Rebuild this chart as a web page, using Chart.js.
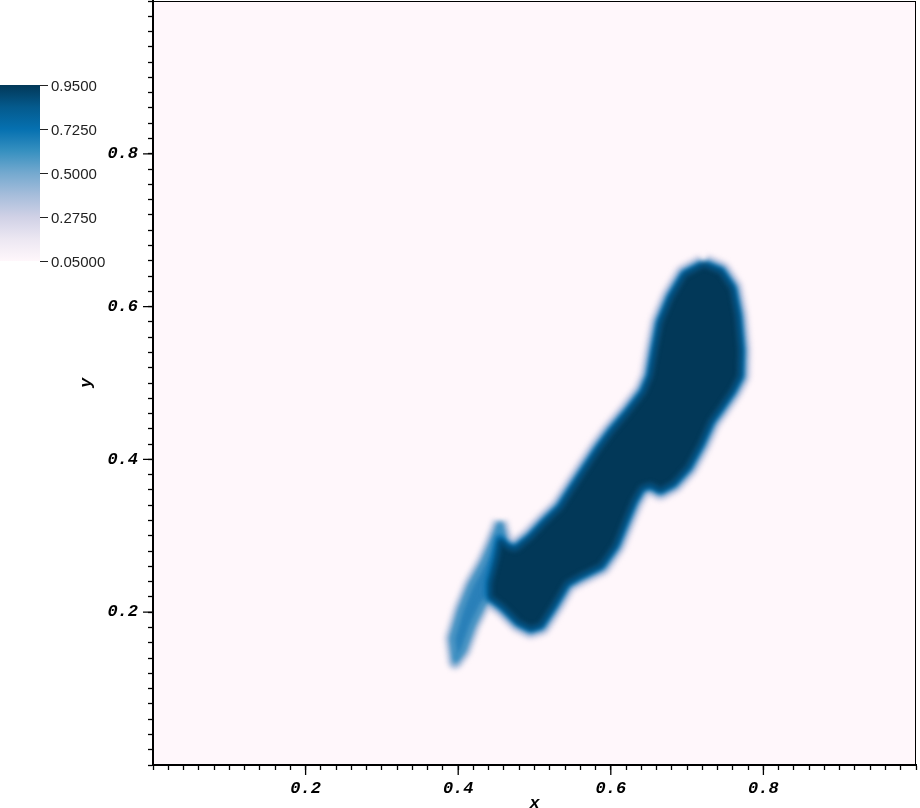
<!DOCTYPE html>
<html>
<head>
<meta charset="UTF-8">
<title>Mapa</title>
<script src="https://cdn.jsdelivr.net/npm/chart.js"></script>
<style>
  html, body { margin: 0; padding: 0; background: #fff; }
  #wrap { width: 920px; height: 808px; }
</style>
</head>
<body>
<div id="wrap"><canvas id="grafica"></canvas></div>
<script>
// outline of the dark (~0.95) region, data units
const coreX = [0.722, 0.744, 0.759, 0.766, 0.770, 0.769, 0.759, 0.744, 0.731, 0.718, 0.701, 0.682,
  0.665, 0.652, 0.640, 0.630, 0.619, 0.606, 0.587, 0.560, 0.542, 0.525, 0.508, 0.495, 0.479, 0.459,
  0.442, 0.442, 0.451, 0.455, 0.465, 0.475, 0.495, 0.514, 0.534, 0.550, 0.583, 0.600, 0.622, 0.643,
  0.652, 0.658, 0.665, 0.679, 0.697];
const coreY = [0.655, 0.646, 0.624, 0.588, 0.543, 0.509, 0.490, 0.468, 0.450, 0.421, 0.390, 0.369,
  0.360, 0.367, 0.363, 0.346, 0.320, 0.288, 0.261, 0.248, 0.238, 0.209, 0.183, 0.179, 0.187, 0.207,
  0.220, 0.238, 0.273, 0.294, 0.285, 0.282, 0.298, 0.318, 0.337, 0.362, 0.412, 0.435, 0.461, 0.488,
  0.509, 0.543, 0.579, 0.612, 0.642];
// lighter tail at the lower left (~0.7)
const tailX = [0.455, 0.446, 0.433, 0.416, 0.403, 0.392, 0.396, 0.407, 0.419, 0.432, 0.445, 0.451, 0.459];
const tailY = [0.318, 0.294, 0.265, 0.235, 0.203, 0.166, 0.135, 0.150, 0.183, 0.209, 0.226, 0.268, 0.301];

const majorTicks = [0.2, 0.4, 0.6, 0.8];
const cbValues = [0.95, 0.725, 0.5, 0.275, 0.05];
const cbLabels = ['0.9500', '0.7250', '0.5000', '0.2750', '0.05000'];
const pubu = ['#fff7fb', '#ece7f2', '#d0d1e6', '#a6bddb', '#74a9cf', '#3690c0', '#0570b0', '#045a8d', '#023858'];

function puntos(xs, ys) {
  const p = xs.map((x, i) => ({ x: x, y: ys[i] }));
  p.push({ x: xs[0], y: ys[0] });
  return p;
}
const core = puntos(coreX, coreY);
const tail = puntos(tailX, tailY);

function capa(data, extra) {
  return Object.assign({
    data: data, showLine: true, pointRadius: 0, tension: 0,
    borderJoinStyle: 'round', fill: false
  }, extra);
}

const fondo = {
  id: 'fondo',
  beforeDraw(chart) {
    const { ctx, chartArea: a } = chart;
    ctx.save();
    ctx.fillStyle = pubu[0];
    ctx.fillRect(a.left, a.top, a.right - a.left, a.bottom - a.top);
    ctx.restore();
  }
};

const difuso = {
  id: 'difuso',
  beforeDatasetsDraw(chart) { chart.ctx.save(); chart.ctx.filter = 'blur(2.5px)'; },
  afterDatasetsDraw(chart) { chart.ctx.restore(); }
};

const marco = {
  id: 'marco',
  afterDraw(chart) {
    const { ctx, chartArea: a } = chart;
    const xs = chart.scales.x, ys = chart.scales.y;
    ctx.save();
    ctx.strokeStyle = '#000';
    ctx.lineWidth = 1;
    ctx.strokeRect(a.left, a.top + 0.5, a.right - a.left - 0.5, a.bottom - a.top);
    // longer major ticks
    ctx.lineWidth = 1.3;
    ctx.beginPath();
    majorTicks.forEach(v => {
      const px = xs.getPixelForValue(v);
      ctx.moveTo(px, xs.top); ctx.lineTo(px, xs.top + 10);
      const py = ys.getPixelForValue(v);
      ctx.moveTo(ys.right - 10, py); ctx.lineTo(ys.right, py);
    });
    ctx.stroke();

    // colour bar
    const L = 0, T = 85, W = 40, H = 176;
    const g = ctx.createLinearGradient(0, T + H, 0, T);
    pubu.forEach((c, i) => g.addColorStop(i / (pubu.length - 1), c));
    ctx.fillStyle = g;
    ctx.fillRect(L, T, W, H);
    ctx.strokeStyle = '#222';
    ctx.lineWidth = 1;
    ctx.fillStyle = '#222';
    ctx.font = '15px "Liberation Sans", Arial, sans-serif';
    ctx.textBaseline = 'middle';
    ctx.textAlign = 'left';
    cbValues.forEach((v, i) => {
      const y = Math.round(T + (0.95 - v) / 0.9 * H) + 0.5;
      ctx.beginPath(); ctx.moveTo(L + W, y); ctx.lineTo(L + W + 8, y); ctx.stroke();
      ctx.fillText(cbLabels[i], L + W + 11, y + 1);
    });
    ctx.restore();
  }
};

const fuente = { family: '"Liberation Mono", "Courier New", monospace', size: 17, weight: 'bold', style: 'italic' };

function etiqueta(value) {
  const v = Math.round(value * 100) / 100;
  return majorTicks.includes(v) ? v.toFixed(1) : '';
}

new Chart(document.getElementById('grafica'), {
  type: 'scatter',
  data: {
    datasets: [
      capa(core, { fill: 'shape', backgroundColor: pubu[8], borderColor: '#034570', borderWidth: 3 }),
      capa(core, { borderColor: pubu[6], borderWidth: 11 }),
      capa(tail, { fill: 'shape', backgroundColor: '#2a80b9', borderColor: '#3a8ec0', borderWidth: 5 }),
      capa(tail, { borderColor: '#b4c4de', borderWidth: 15 }),
      capa(core, { borderColor: '#c3cae2', borderWidth: 21 })
    ]
  },
  options: {
    responsive: true,
    maintainAspectRatio: false,
    animation: false,
    layout: { padding: { top: 1, right: 4, left: 0, bottom: 0 } },
    plugins: { legend: { display: false }, tooltip: { enabled: false } },
    scales: {
      x: {
        type: 'linear', min: 0, max: 1,
        afterFit(s) { s.height = 43; s.paddingLeft = 0; s.paddingRight = 0; },
        border: { display: true, color: '#000', width: 2 },
        grid: { drawOnChartArea: false, drawTicks: true, tickLength: 5, tickColor: '#000', tickWidth: 1.3 },
        ticks: { stepSize: 0.02, autoSkip: false, maxRotation: 0, color: '#000', font: fuente, padding: 9, callback: etiqueta },
        title: { display: true, text: 'x', color: '#000', font: Object.assign({}, fuente, { lineHeight: 0.5 }), padding: { top: 0, bottom: 0 } }
      },
      y: {
        type: 'linear', min: 0, max: 1,
        afterFit(s) { s.width = 153; s.paddingTop = 0; s.paddingBottom = 0; },
        border: { display: true, color: '#000', width: 2 },
        grid: { drawOnChartArea: false, drawTicks: true, tickLength: 5, tickColor: '#000', tickWidth: 1.3 },
        ticks: { stepSize: 0.02, autoSkip: false, color: '#000', font: fuente, padding: 10, callback: etiqueta },
        title: { display: true, text: 'y', color: '#000', font: Object.assign({}, fuente, { lineHeight: 1.2 }), padding: { top: 77, bottom: 0 } }
      }
    }
  },
  plugins: [fondo, difuso, marco]
});
</script>
</body>
</html>
